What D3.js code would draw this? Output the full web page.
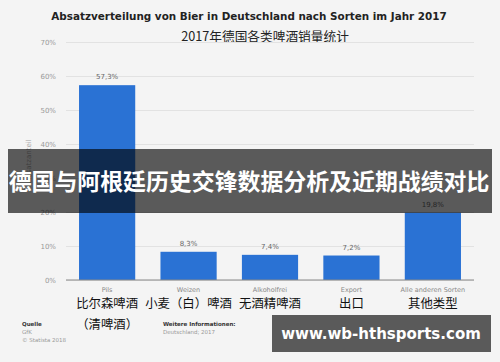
<!DOCTYPE html>
<html><head><meta charset="utf-8">
<script src="https://cdn.jsdelivr.net/npm/d3@7"></script>
<style>
html,body{margin:0;padding:0;background:#f4f4f4;}
svg{display:block;}
</style></head>
<body>
<svg id="c" width="500" height="362"></svg>
<script>
const categories = ["Pils","Weizen","Alkoholfrei","Export","Alle anderen Sorten"];
const zhLabels = [["比尔森啤酒","（清啤酒）"],["小麦（白）啤酒"],["无酒精啤酒"],["出口"],["其他类型"]];
const values = [57.3, 8.3, 7.4, 7.2, 19.8];
const valueLabels = ["57,3%","8,3%","7,4%","7,2%","19,8%"];
const yTicks = [0,10,20,30,40,50,60,70];

const svg = d3.select("#c");
const W = 500, H = 362;
const m = {l:66, r:26, t:42, b:82};
const x = d3.scaleBand().domain(categories).range([m.l, W-m.r]).paddingInner(0.31).paddingOuter(0.16);
const y = d3.scaleLinear().domain([0,70]).range([H-m.b, m.t]);

svg.append("rect").attr("width",W).attr("height",H).attr("fill","#f4f4f4");

// title
svg.append("text").attr("x",249).attr("y",20).attr("text-anchor","middle")
  .attr("font-family","DejaVu Sans").attr("font-weight","bold").attr("font-size",10.4).attr("fill","#222")
  .text("Absatzverteilung von Bier in Deutschland nach Sorten im Jahr 2017");
svg.append("text").attr("x",265).attr("y",41).attr("text-anchor","middle")
  .attr("font-family","Noto Sans CJK SC").attr("font-size",12.7).attr("fill","#222")
  .text("2017年德国各类啤酒销量统计");

// grid
const yAxis = d3.axisLeft(y).tickValues(yTicks).tickFormat(d=>d+"%").tickSize(-(W-m.l-m.r)).tickPadding(10);
const ga = svg.append("g").attr("transform",`translate(${m.l},0)`).call(yAxis);
ga.select(".domain").remove();
ga.selectAll(".tick line").attr("stroke","#e2e2e2").attr("stroke-width",1);
ga.selectAll(".tick text").attr("font-family","DejaVu Sans").attr("font-size",7).attr("fill","#999");

// y title
svg.append("text").attr("transform",`translate(31,${(m.t+H-m.b)/2}) rotate(-90)`).attr("text-anchor","middle")
  .attr("font-family","DejaVu Sans").attr("font-size",7).attr("fill","#aaa").text("Absatzanteil");

// bars
svg.selectAll("rect.bar").data(values).join("rect").attr("class","bar")
  .attr("x",(d,i)=>x(categories[i])).attr("width",x.bandwidth())
  .attr("y",d=>y(d)).attr("height",d=>y(0)-y(d)).attr("fill","#2a72d4");
svg.selectAll("text.vl").data(values).join("text").attr("class","vl")
  .attr("x",(d,i)=>x(categories[i])+x.bandwidth()/2).attr("y",d=>y(d)-6)
  .attr("text-anchor","middle").attr("font-family","DejaVu Sans").attr("font-size",7).attr("fill","#666")
  .text((d,i)=>valueLabels[i]);

// baseline
svg.append("line").attr("x1",m.l).attr("x2",W-m.r).attr("y1",y(0)).attr("y2",y(0)).attr("stroke","#888").attr("stroke-width",1.2);

// category labels
svg.selectAll("text.cl").data(categories).join("text").attr("class","cl")
  .attr("x",d=>x(d)+x.bandwidth()/2).attr("y",y(0)+11.5).attr("text-anchor","middle")
  .attr("font-family","DejaVu Sans").attr("font-size",6.5).attr("fill","#888").text(d=>d);
categories.forEach((c,i)=>{
  zhLabels[i].forEach((t,j)=>{
    svg.append("text").attr("x",x(c)+x.bandwidth()/2).attr("y",y(0)+28+j*21).attr("text-anchor","middle")
      .attr("font-family","Noto Sans CJK SC").attr("font-size",12.4).attr("fill","#111").text(t);
  });
});

// footer
const ft = [[22,326,"Quelle","#333","bold"],[22,334,"GfK","#999","normal"],[22,342,"© Statista 2018","#999","normal"],
            [163,326,"Weitere Informationen:","#333","bold"],[163,334,"Deutschland; 2017","#999","normal"]];
ft.forEach(f=>svg.append("text").attr("x",f[0]).attr("y",f[1]).attr("font-family","DejaVu Sans")
  .attr("font-size",5.5).attr("fill",f[3]).attr("font-weight",f[4]).text(f[2]));

// overlay band
svg.append("rect").attr("x",8).attr("y",149).attr("width",484).attr("height",64).attr("fill","#000").attr("opacity",0.63);
svg.append("text").attr("x",249).attr("y",190).attr("text-anchor","middle")
  .attr("font-family","Noto Sans CJK SC").attr("font-weight","bold").attr("font-size",22.9).attr("fill","#fff")
  .text("德国与阿根廷历史交锋数据分析及近期战绩对比");

// watermark box
svg.append("rect").attr("x",272).attr("y",315).attr("width",219).attr("height",37).attr("fill","#000").attr("opacity",0.63);
svg.append("text").attr("x",381).attr("y",339).attr("text-anchor","middle")
  .attr("font-family","DejaVu Sans").attr("font-weight","bold").attr("font-size",15).attr("fill","#fff")
  .text("www.wb-hthsports.com");
</script>
</body></html>
